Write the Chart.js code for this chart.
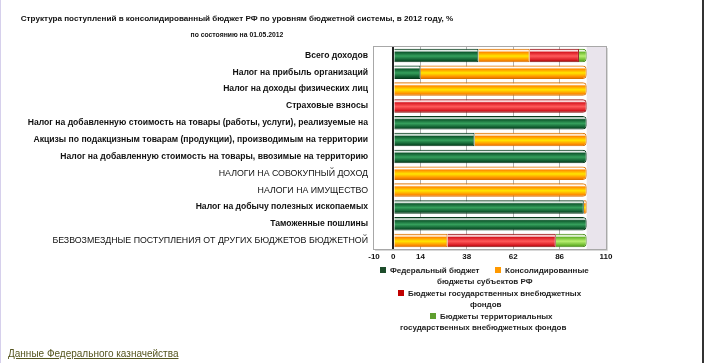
<!DOCTYPE html>
<html>
<head>
<meta charset="utf-8">
<script src="https://cdn.jsdelivr.net/npm/chart.js@4"></script>
<style>
  html, body { margin: 0; padding: 0; background: #fff; }
  body { width: 704px; height: 363px; position: relative; overflow: hidden; font-family: "Liberation Sans", Arial, sans-serif; }
  #frame { position: absolute; left: 0; top: 0; width: 704px; height: 363px; border-left: 1px solid #d6d0ec; border-right: 2px solid #333; box-sizing: border-box; }
  #chart { position: absolute; left: 0; top: 0; }
  .t { position: absolute; white-space: nowrap; color: #111; font-weight: bold; }
  #title { left: 0; width: 474px; top: 14px; text-align: center; font-size: 8.1px; }
  #subtitle { left: 0; width: 474px; top: 31px; text-align: center; font-size: 6.8px; }
  .lg { position: absolute; font-size: 8px; font-weight: bold; color: #222; white-space: nowrap; }
  .mk { display: inline-block; width: 6px; height: 6px; margin-right: 4px; vertical-align: 0px; }
  #src { position: absolute; left: 8px; top: 348px; font-size: 10px; color: #55551f; text-decoration: underline; }
</style>
</head>
<body>
<div id="frame"></div>
<canvas id="chart" width="704" height="363"></canvas>
<div id="title" class="t">Структура поступлений в консолидированный бюджет РФ по уровням бюджетной системы, в 2012 году, %</div>
<div id="subtitle" class="t">по состоянию на 01.05.2012</div>
<div id="legend"></div>
<div id="src">Данные Федерального казначейства</div>
<script>
// Categories (top to bottom)
const categories = [
  "Всего доходов",
  "Налог на прибыль организаций",
  "Налог на доходы физических лиц",
  "Страховые взносы",
  "Налог на добавленную стоимость на товары (работы, услуги), реализуемые на",
  "Акцизы по подакцизным товарам (продукции), производимым на территории",
  "Налог на добавленную стоимость на товары, ввозимые на территорию",
  "НАЛОГИ НА СОВОКУПНЫЙ ДОХОД",
  "НАЛОГИ НА ИМУЩЕСТВО",
  "Налог на добычу полезных ископаемых",
  "Таможенные пошлины",
  "БЕЗВОЗМЕЗДНЫЕ ПОСТУПЛЕНИЯ ОТ ДРУГИХ БЮДЖЕТОВ БЮДЖЕТНОЙ",
];

// Shares, %
const federal     = [44,   14, 0,   0,   100, 42, 100, 0,   0,   98.5, 100, 0];
const regional    = [26.5, 86, 100, 0,   0,   58, 0,   100, 100, 1.5,  0,   28];
const stateFunds  = [25.5, 0,  0,   100, 0,   0,  0,   0,   0,   0,    0,   56];
const territorial = [4,    0,  0,   0,   0,   0,  0,   0,   0,   0,    0,   16];

const seriesNames = [
  "Федеральный бюджет",
  "Консолидированные бюджеты субъектов РФ",
  "Бюджеты государственных внебюджетных фондов",
  "Бюджеты территориальных государственных внебюджетных фондов",
];

const xTicks = [-10, 0, 14, 38, 62, 86, 110];

// edge colour, centre colour, border, legend marker
const palette = [
  { edge: "#0f5a2e", mid: "#35a05c", border: "#083a1c", marker: "#1d4d2b" },
  { edge: "#ff8c00", mid: "#ffe600", border: "#d97000", marker: "#ff9900" },
  { edge: "#d81a22", mid: "#ff5a5a", border: "#8a0c0c", marker: "#c00000" },
  { edge: "#6cb82e", mid: "#b8f070", border: "#4a8a1c", marker: "#5f9f2f" },
];

const BAR_H = 13;

// glossy gradient per bar, built from the category scale
function glossy(p) {
  return function (context) {
    if (context.type !== "data") return p.edge;
    const chart = context.chart;
    const y = chart.scales.y;
    if (!y) return p.edge;
    const yc = y.getPixelForValue(context.dataIndex);
    if (!isFinite(yc)) return p.edge;
    const g = chart.ctx.createLinearGradient(0, yc - BAR_H / 2, 0, yc + BAR_H / 2);
    g.addColorStop(0, p.edge);
    g.addColorStop(0.14, "#ffffff");
    g.addColorStop(0.26, p.edge);
    g.addColorStop(0.55, p.mid);
    g.addColorStop(0.85, p.edge);
    g.addColorStop(1, p.border);
    return g;
  };
}

const seriesData = [federal, regional, stateFunds, territorial];

const plotBg = {
  id: "plotBg",
  beforeDraw(chart) {
    const { ctx, chartArea: a, scales: { x } } = chart;
    ctx.save();
    ctx.fillStyle = "#fff";
    ctx.fillRect(a.left, a.top, a.right - a.left, a.bottom - a.top);
    const x100 = x.getPixelForValue(100);
    ctx.fillStyle = "#e9e4ec";
    ctx.fillRect(x100, a.top, a.right - x100, a.bottom - a.top);
    ctx.restore();
  },
  afterDraw(chart) {
    const { ctx, chartArea: a } = chart;
    ctx.save();
    ctx.strokeStyle = "#a8a8a8";
    ctx.lineWidth = 1;
    ctx.strokeRect(a.left - 0.5, a.top - 0.5, a.right - a.left + 1, a.bottom - a.top + 1);
    ctx.strokeStyle = "#d8d8d8";
    ctx.beginPath();
    ctx.moveTo(a.left + 1, a.bottom + 1.5);
    ctx.lineTo(a.right + 1.5, a.bottom + 1.5);
    ctx.lineTo(a.right + 1.5, a.top + 1);
    ctx.stroke();
    ctx.restore();
  },
};

new Chart(document.getElementById("chart"), {
  type: "bar",
  data: {
    labels: categories,
    datasets: seriesData.map((d, i) => ({
      label: seriesNames[i],
      data: d,
      backgroundColor: glossy(palette[i]),
      borderColor: palette[i].border,
      borderWidth: 1,
      borderRadius: 4,
      borderSkipped: "start",
      barPercentage: 0.8,
      categoryPercentage: 1,
    })),
  },
  options: {
    indexAxis: "y",
    responsive: false,
    animation: false,
    layout: { padding: { left: 0, right: 98, top: 47, bottom: 100 } },
    plugins: {
      legend: { display: false },
      title: { display: false },
      tooltip: { enabled: false },
    },
    scales: {
      x: {
        stacked: true,
        min: -10,
        max: 110,
        afterBuildTicks: (s) => { s.ticks = xTicks.map((v) => ({ value: v })); },
        afterFit: (s) => { s.height = 14; },
        border: { display: false },
        grid: {
          drawTicks: false,
          color: (c) => (c.tick && c.tick.value === 0 ? "#222" : (c.tick && (c.tick.value === -10 || c.tick.value === 110) ? "rgba(0,0,0,0)" : "#b0b0b0")),
          lineWidth: (c) => (c.tick && c.tick.value === 0 ? 2 : 1),
        },
        ticks: {
          autoSkip: false,
          maxRotation: 0,
          padding: 3,
          color: "#111",
          font: { family: "Liberation Sans", size: 8, weight: "bold" },
        },
      },
      y: {
        stacked: true,
        afterFit: (s) => { s.width = 374; },
        border: { display: false },
        grid: { display: false, drawTicks: false },
        ticks: {
          padding: 6,
          color: "#111",
          font: (c) => {
            const caps = c.index === 7 || c.index === 8 || c.index === 11;
            return { family: "Liberation Sans", size: caps ? 8.8 : 8.6, weight: caps ? "normal" : "bold" };
          },
        },
      },
    },
  },
  plugins: [plotBg],
});

// legend (wrapped, centred like the original)
const legendItems = [
  { idx: 0, left: 380, top: 266, lines: ["Федеральный бюджет"] },
  { idx: 1, left: 495, top: 266, lines: ["Консолидированные", "бюджеты субъектов РФ"], align: 437 },
  { idx: 2, left: 398, top: 289, lines: ["Бюджеты государственных внебюджетных", "фондов"], align: 470 },
  { idx: 3, left: 430, top: 312, lines: ["Бюджеты территориальных", "государственных внебюджетных фондов"], align: 400 },
];
const legendEl = document.getElementById("legend");
legendItems.forEach((it) => {
  const first = document.createElement("div");
  first.className = "lg";
  first.style.left = it.left + "px";
  first.style.top = it.top + "px";
  const mk = document.createElement("span");
  mk.className = "mk";
  mk.style.background = palette[it.idx].marker;
  first.appendChild(mk);
  first.appendChild(document.createTextNode(it.lines[0]));
  legendEl.appendChild(first);
  if (it.lines[1]) {
    const second = document.createElement("div");
    second.className = "lg";
    second.style.left = it.align + "px";
    second.style.top = it.top + 11 + "px";
    second.textContent = it.lines[1];
    legendEl.appendChild(second);
  }
});
</script>
</body>
</html>
